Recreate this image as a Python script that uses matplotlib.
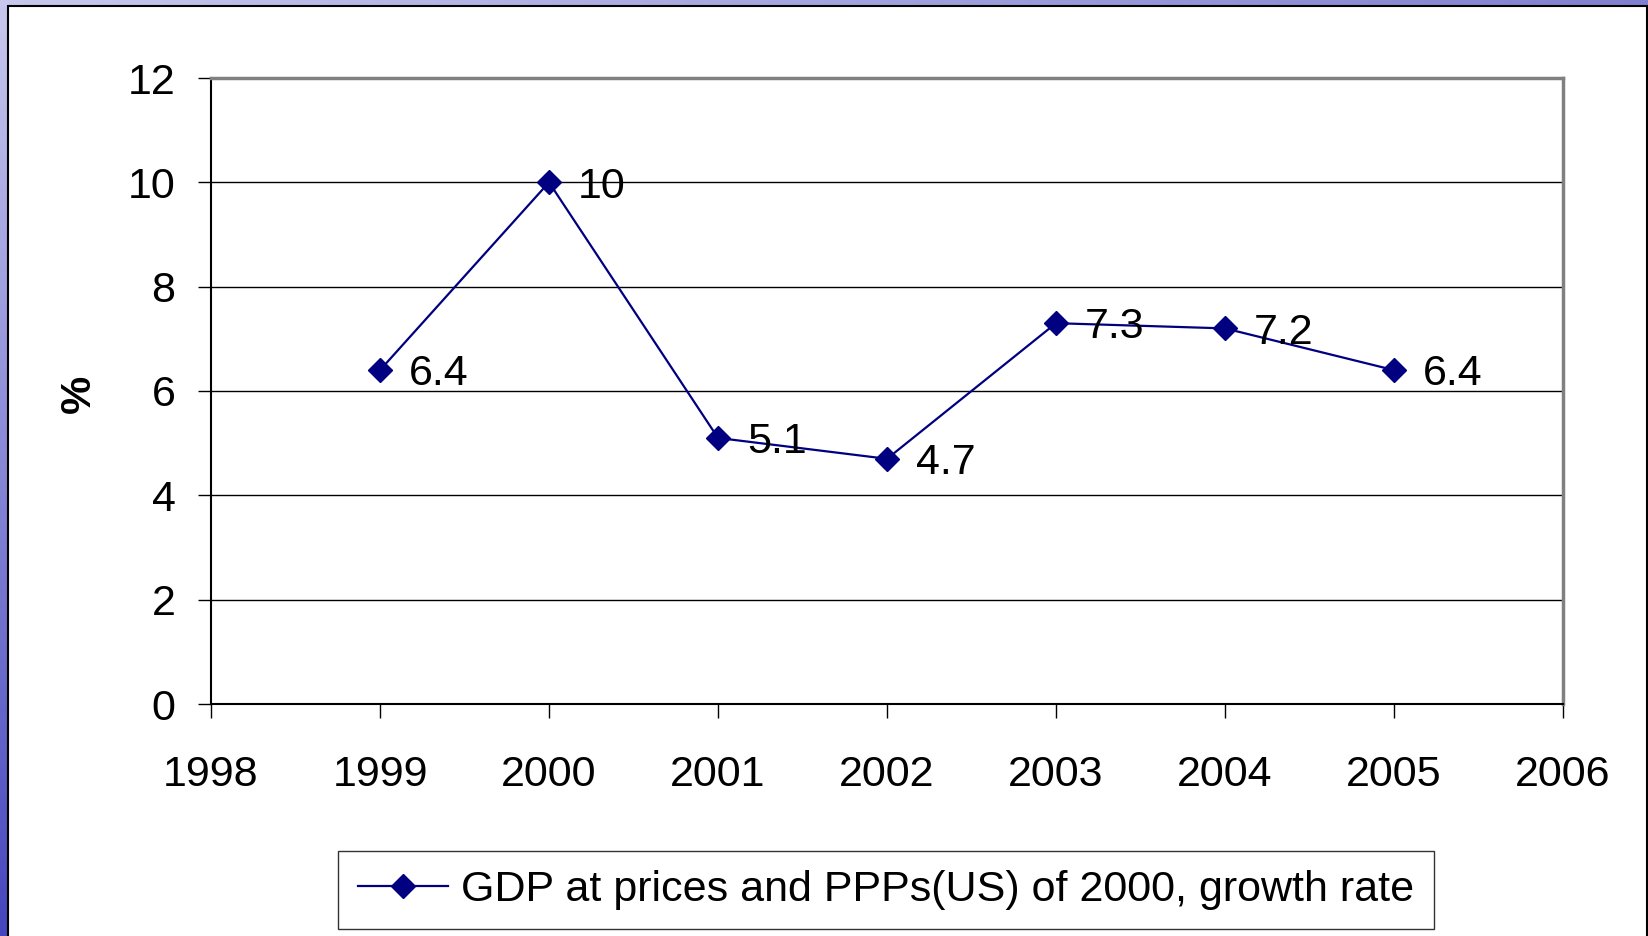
import matplotlib.pyplot as plt
import numpy as np
from matplotlib.patches import Rectangle

# data
years = [1999, 2000, 2001, 2002, 2003, 2004, 2005]
growth = [6.4, 10, 5.1, 4.7, 7.3, 7.2, 6.4]
x_ticks = [1998, 1999, 2000, 2001, 2002, 2003, 2004, 2005, 2006]
y_ticks = [0, 2, 4, 6, 8, 10, 12]
series_name = 'GDP at prices and PPPs(US) of 2000, growth rate'

plt.rcParams['font.family'] = ['Liberation Sans', 'DejaVu Sans']

W, H = 1648, 936
FS = 31
fig = plt.figure(figsize=(W / 100, H / 100), dpi=100)

# blue gradient slide background
bg = fig.add_axes([0, 0, 1, 1])
bg.set_axis_off()
bg.set_zorder(-3)
u = np.linspace(0, 1, 200)[None, :, None]
v = np.linspace(0, 1, 200)[:, None, None]
tl = np.array([200, 200, 238]) / 255
tr = np.array([128, 128, 208]) / 255
bl = np.array([70, 70, 190]) / 255
br = np.array([70, 70, 190]) / 255
img = (1 - v) * ((1 - u) * tl + u * tr) + v * ((1 - u) * bl + u * br)
bg.imshow(img, aspect='auto', extent=[0, 1, 0, 1])
bg.set_xlim(0, 1)
bg.set_ylim(0, 1)

# white chart panel
fig.patches.append(Rectangle((8 / W, -0.01), (W - 9) / W, (H - 6) / H + 0.01,
                             transform=fig.transFigure, facecolor='white',
                             edgecolor='black', linewidth=1.5, zorder=-2))

ax = fig.add_axes([211 / W, (H - 704) / H, (1563 - 211) / W, (704 - 78) / H])
ax.set_facecolor('none')
ax.plot(years, growth, color='#000080', linewidth=1.6, marker='D',
        markersize=12, markerfacecolor='#000080', markeredgecolor='#000080',
        label=series_name, zorder=3)

for x, y in zip(years, growth):
    ax.annotate(f'{y:g}', (x, y), xytext=(21, -3), textcoords='offset points',
                ha='left', va='center', fontsize=FS, zorder=4)

ax.set_xlim(1998, 2006)
ax.set_ylim(0, 12)
ax.set_xticks(x_ticks)
ax.set_yticks(y_ticks)
ax.tick_params(axis='both', direction='out', labelsize=FS, width=1, color='black')
ax.tick_params(axis='x', length=10, pad=27)
ax.tick_params(axis='y', length=9.5, pad=16)
ax.yaxis.grid(True, color='black', linewidth=1)
ax.set_axisbelow(True)

for side in ['left', 'bottom']:
    ax.spines[side].set_color('black')
    ax.spines[side].set_linewidth(1.5)
for side in ['top', 'right']:
    ax.spines[side].set_color('#808080')
    ax.spines[side].set_linewidth(2.5)

fig.text(79 / W, 1 - 394 / H, '%', rotation=90, ha='center', va='center',
         fontsize=FS, fontweight='bold')

leg = fig.legend(loc='center', bbox_to_anchor=(886 / W, 1 - 890 / H),
                 fontsize=FS, frameon=True, fancybox=False, handlelength=2.1,
                 handletextpad=0.3, borderpad=0.45, borderaxespad=0)
leg.get_frame().set_edgecolor('black')
leg.get_frame().set_linewidth(1)

fig.savefig('out.png', dpi=100)
